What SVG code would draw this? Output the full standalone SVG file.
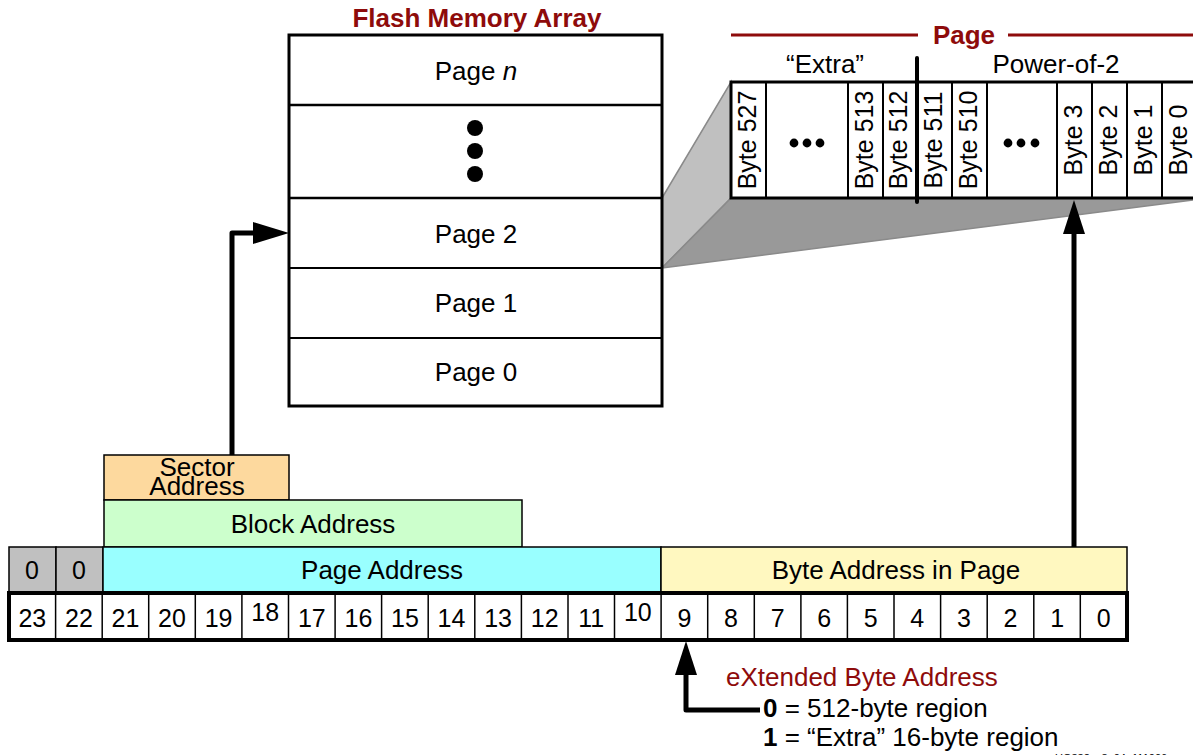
<svg xmlns="http://www.w3.org/2000/svg" width="1193" height="755" viewBox="0 0 1193 755">
<style>
text{font-family:"Liberation Sans",Arial,sans-serif;fill:#000}
.t{font-size:26px;text-anchor:middle}
.n{font-size:25px;text-anchor:middle}
.red{fill:#8e0b0b}
.b{font-weight:bold}
.byte{font-size:25px;text-anchor:middle}
.conn{fill:none;stroke:#000;stroke-width:5;stroke-linejoin:round}
</style>
<rect width="1193" height="755" fill="#fff"/>

<!-- zoom projection -->
<g id="projection">
<polygon points="662,198 731,82 731,198 662,268" fill="#c0c0c0" stroke="#8a8a8a" stroke-width="1.5"/>
<polygon points="662,268 731,198 1193,198 1193,200" fill="#999" stroke="#8a8a8a" stroke-width="1.5"/>
</g>

<!-- Flash memory array -->
<g id="flash-array">
<text x="477" y="27" class="t b red">Flash Memory Array</text>
<rect x="289" y="35" width="373" height="371" fill="#fff" stroke="#000" stroke-width="3"/>
<line x1="289" y1="105" x2="662" y2="105" stroke="#000" stroke-width="2.5"/>
<line x1="289" y1="198" x2="662" y2="198" stroke="#000" stroke-width="2.5"/>
<line x1="289" y1="268" x2="662" y2="268" stroke="#000" stroke-width="2"/>
<line x1="289" y1="338" x2="662" y2="338" stroke="#000" stroke-width="2"/>
<text x="476" y="80" class="t">Page <tspan font-style="italic">n</tspan></text>
<circle cx="475" cy="128" r="8"/>
<circle cx="475" cy="151" r="8"/>
<circle cx="475" cy="174" r="8"/>
<text x="476" y="243" class="t">Page 2</text>
<text x="476" y="312" class="t">Page 1</text>
<text x="476" y="381" class="t">Page 0</text>
</g>

<!-- Page bytes -->
<g id="page">
<line x1="731" y1="35" x2="918" y2="35" stroke="#8e0b0b" stroke-width="3"/>
<line x1="1008" y1="35" x2="1193" y2="35" stroke="#8e0b0b" stroke-width="3"/>
<text x="964" y="44" class="t b red" font-size="28">Page</text>
<text x="825" y="73" class="t" font-size="25">“Extra”</text>
<text x="1056" y="73" class="t" font-size="25">Power-of-2</text>
<rect x="731" y="82" width="470" height="116" fill="#fff" stroke="#000" stroke-width="3"/>
<g stroke="#000" stroke-width="2">
<line x1="766" y1="82" x2="766" y2="198"/>
<line x1="848" y1="82" x2="848" y2="198"/>
<line x1="883" y1="82" x2="883" y2="198"/>
<line x1="952" y1="82" x2="952" y2="198"/>
<line x1="987" y1="82" x2="987" y2="198"/>
<line x1="1057" y1="82" x2="1057" y2="198"/>
<line x1="1092" y1="82" x2="1092" y2="198"/>
<line x1="1127" y1="82" x2="1127" y2="198"/>
<line x1="1162" y1="82" x2="1162" y2="198"/>
</g>
<line x1="917" y1="58" x2="917" y2="202" stroke="#000" stroke-width="4" stroke-linecap="round"/>
<text class="byte" transform="translate(756,140) rotate(-90)">Byte 527</text>
<text class="byte" transform="translate(873,140) rotate(-90)">Byte 513</text>
<text class="byte" transform="translate(907,140) rotate(-90)">Byte 512</text>
<text class="byte" transform="translate(942,140) rotate(-90)">Byte 511</text>
<text class="byte" transform="translate(977,140) rotate(-90)">Byte 510</text>
<text class="byte" transform="translate(1082,140) rotate(-90)">Byte 3</text>
<text class="byte" transform="translate(1117,140) rotate(-90)">Byte 2</text>
<text class="byte" transform="translate(1152,140) rotate(-90)">Byte 1</text>
<text class="byte" transform="translate(1187,140) rotate(-90)">Byte 0</text>
<circle cx="794" cy="143" r="4.4"/><circle cx="807" cy="143" r="4.4"/><circle cx="820" cy="143" r="4.4"/>
<circle cx="1008" cy="143" r="4.4"/><circle cx="1021" cy="143" r="4.4"/><circle cx="1035" cy="143" r="4.4"/>
</g>

<!-- Address fields -->
<g id="sector-address">
<rect x="104" y="455" width="185" height="45" fill="#fdd99e" stroke="#000" stroke-width="1.5"/>
<text class="t" font-size="25"><tspan x="197" y="476">Sector</tspan><tspan x="197" y="495">Address</tspan></text>
</g>
<g id="block-address">
<rect x="104" y="500" width="418" height="47" fill="#ccffcc" stroke="#000" stroke-width="1.5"/>
<text x="313" y="533" class="t">Block Address</text>
</g>
<g id="zero-bits">
<rect x="9" y="547" width="47" height="45" fill="#c0c0c0" stroke="#000" stroke-width="1.5"/>
<rect x="56" y="547" width="47" height="45" fill="#c0c0c0" stroke="#000" stroke-width="1.5"/>
<text x="32" y="579" class="n">0</text>
<text x="79" y="579" class="n">0</text>
</g>
<g id="page-address">
<rect x="103" y="547" width="558" height="45" fill="#99ffff" stroke="#000" stroke-width="1.5"/>
<text x="382" y="579" class="t">Page Address</text>
</g>
<g id="byte-address">
<rect x="661" y="547" width="466" height="45" fill="#fff8c0" stroke="#000" stroke-width="1.5"/>
<text x="896" y="579" class="t">Byte Address in Page</text>
</g>

<!-- Bit row -->
<g id="bit-row">
<rect x="9" y="593" width="1118" height="47" fill="#fff" stroke="#000" stroke-width="4"/>
<g stroke="#000" stroke-width="1.5">
<line x1="55.6" y1="593" x2="55.6" y2="640"/>
<line x1="102.2" y1="593" x2="102.2" y2="640"/>
<line x1="148.7" y1="593" x2="148.7" y2="640"/>
<line x1="195.3" y1="593" x2="195.3" y2="640"/>
<line x1="241.9" y1="593" x2="241.9" y2="640"/>
<line x1="288.5" y1="593" x2="288.5" y2="640"/>
<line x1="335.1" y1="593" x2="335.1" y2="640"/>
<line x1="381.6" y1="593" x2="381.6" y2="640"/>
<line x1="428.2" y1="593" x2="428.2" y2="640"/>
<line x1="474.8" y1="593" x2="474.8" y2="640"/>
<line x1="521.4" y1="593" x2="521.4" y2="640"/>
<line x1="568" y1="593" x2="568" y2="640"/>
<line x1="614.5" y1="593" x2="614.5" y2="640"/>
<line x1="661.1" y1="593" x2="661.1" y2="640"/>
<line x1="707.7" y1="593" x2="707.7" y2="640"/>
<line x1="754.3" y1="593" x2="754.3" y2="640"/>
<line x1="800.9" y1="593" x2="800.9" y2="640"/>
<line x1="847.4" y1="593" x2="847.4" y2="640"/>
<line x1="894" y1="593" x2="894" y2="640"/>
<line x1="940.6" y1="593" x2="940.6" y2="640"/>
<line x1="987.2" y1="593" x2="987.2" y2="640"/>
<line x1="1033.8" y1="593" x2="1033.8" y2="640"/>
<line x1="1080.3" y1="593" x2="1080.3" y2="640"/>
</g>
<text x="32.3" y="627" class="n">23</text>
<text x="78.9" y="627" class="n">22</text>
<text x="125.5" y="627" class="n">21</text>
<text x="172" y="627" class="n">20</text>
<text x="218.6" y="627" class="n">19</text>
<text x="265.2" y="621" class="n">18</text>
<text x="311.8" y="627" class="n">17</text>
<text x="358.4" y="627" class="n">16</text>
<text x="404.9" y="627" class="n">15</text>
<text x="451.5" y="627" class="n">14</text>
<text x="498.1" y="627" class="n">13</text>
<text x="544.7" y="627" class="n">12</text>
<text x="591.3" y="627" class="n">11</text>
<text x="637.8" y="621" class="n">10</text>
<text x="684.4" y="627" class="n">9</text>
<text x="731" y="627" class="n">8</text>
<text x="777.6" y="627" class="n">7</text>
<text x="824.2" y="627" class="n">6</text>
<text x="870.7" y="627" class="n">5</text>
<text x="917.3" y="627" class="n">4</text>
<text x="963.9" y="627" class="n">3</text>
<text x="1010.5" y="627" class="n">2</text>
<text x="1057.1" y="627" class="n">1</text>
<text x="1103.6" y="627" class="n">0</text>
</g>

<!-- Legend -->
<g id="xba-legend">
<text x="726" y="686" font-size="26" class="red">eXtended Byte Address</text>
<text x="763" y="717" font-size="26"><tspan font-weight="bold">0</tspan> = 512-byte region</text>
<text x="763" y="746" font-size="26"><tspan font-weight="bold">1</tspan> = “Extra” 16-byte region</text>
<text x="1055" y="762" font-size="11">UG332_c8_04_111006</text>
</g>

<!-- Connectors -->
<g id="connectors">
<path class="conn" d="M232 455 V233 H256"/>
<polygon points="253,222 289,233 253,244"/>
<path class="conn" d="M1074 547 V232"/>
<polygon points="1063,234 1074,200 1085,234"/>
<path class="conn" d="M760 710 H686 V672"/>
<polygon points="675,675 686,641 697,675"/>
</g>
</svg>
